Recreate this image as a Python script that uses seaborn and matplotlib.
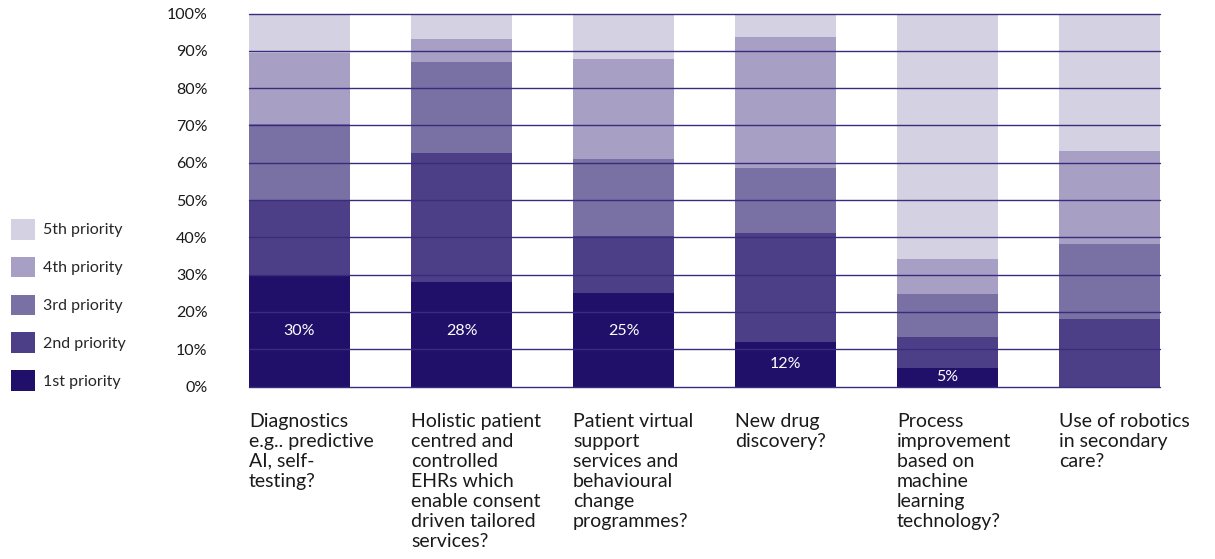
import matplotlib
matplotlib.use("Agg")
import matplotlib.pyplot as plt
from matplotlib.patches import Patch
import numpy as np
import seaborn as sns

# Share of respondents ranking each AI application at each priority level (%)
categories = [
    "Diagnostics\ne.g.. predictive\nAI, self-\ntesting?",
    "Holistic patient\ncentred and\ncontrolled\nEHRs which\nenable consent\ndriven tailored\nservices?",
    "Patient virtual\nsupport\nservices and\nbehavioural\nchange\nprogrammes?",
    "New drug\ndiscovery?",
    "Process\nimprovement\nbased on\nmachine\nlearning\ntechnology?",
    "Use of robotics\nin secondary\ncare?",
]
first_priority = [30, 28, 25, 12, 5, 0]
second_priority = [20, 34.5, 15.3, 29.1, 8.2, 18.0]
third_priority = [20.5, 24.4, 20.6, 17.6, 11.5, 20.1]
fourth_priority = [19, 6.3, 26.8, 35.0, 9.5, 25.0]
fifth_priority = [10.5, 6.8, 12.3, 6.3, 65.8, 36.9]

priority_labels = ["1st priority", "2nd priority", "3rd priority", "4th priority", "5th priority"]
priority_colors = ["#21106a", "#4c3f87", "#7970a3", "#a79fc4", "#d4d1e3"]
y_ticks = [0, 10, 20, 30, 40, 50, 60, 70, 80, 90, 100]

sns.set_theme(style="white")
plt.rcParams["font.family"] = ["Lato", "DejaVu Sans"]

fig = plt.figure(figsize=(12.15, 5.59), dpi=100)
ax = fig.add_axes([249 / 1215, 1 - 386.5 / 559, 911 / 1215, 373 / 559])

series = [first_priority, second_priority, third_priority, fourth_priority, fifth_priority]
cumulative = np.cumsum(np.array(series), axis=0)
bar_width = 0.623

# Stack by drawing the running totals from the tallest down
for level in range(len(series) - 1, -1, -1):
    sns.barplot(x=categories, y=cumulative[level], color=priority_colors[level],
                saturation=1, width=bar_width, linewidth=0, ax=ax, zorder=1)

# Horizontal rules over the bars
for t in y_ticks:
    ax.axhline(t, color="#3a2c7c", linewidth=1.0, zorder=3, clip_on=False)

# Value labels inside the 1st-priority segment
for i, v in enumerate(first_priority):
    if v > 0:
        y = 15 if v >= 20 else v / 2
        ax.text(i, y, f"{v:g}%", color="white", ha="center", va="center",
                fontsize=11.5, zorder=4)

ax.set_xlim(-bar_width / 2, len(categories) - 1 + bar_width / 2)
ax.set_ylim(0, 100)
ax.set_yticks(y_ticks)
ax.set_yticklabels([f"{t}%" for t in y_ticks], fontsize=11.5, color="#1a1a1a")
ax.tick_params(axis="y", length=0, pad=30)
ax.set_xticks([])
ax.set_xlabel("")
ax.set_ylabel("")
for s in ax.spines.values():
    s.set_visible(False)

# Category labels, left-aligned under each bar
for i, label in enumerate(categories):
    ax.text(i - bar_width / 2, -0.07, label, transform=ax.get_xaxis_transform(),
            ha="left", va="top", fontsize=14, color="#1a1a1a", linespacing=1.22)

handles = [Patch(facecolor=c, edgecolor="none") for c in priority_colors][::-1]
fig.legend(handles, priority_labels[::-1], loc="upper left",
           bbox_to_anchor=(11 / 1215, 1 - 219 / 559), frameon=False,
           fontsize=11.5, handlelength=1.5, handleheight=1.6,
           handletextpad=0.5, labelspacing=1.08, borderpad=0, borderaxespad=0)

fig.savefig("out.png", dpi=100)
